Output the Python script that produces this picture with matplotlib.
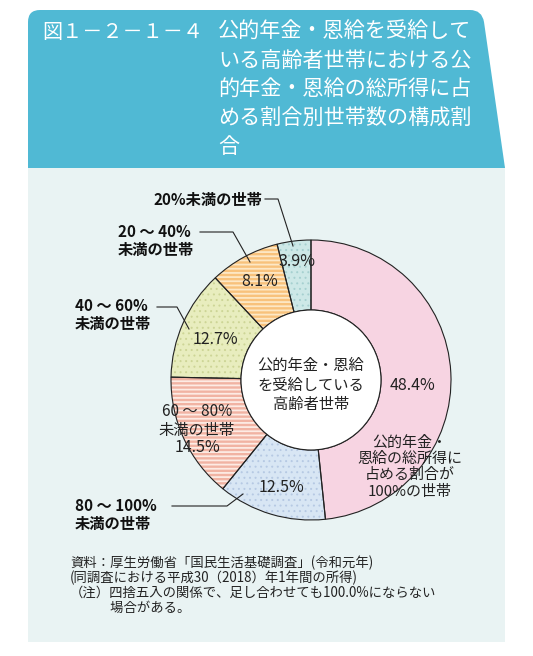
import matplotlib.pyplot as plt
from matplotlib.patches import Rectangle, Circle, PathPatch
from matplotlib.path import Path

plt.rcParams['font.family'] = ['Noto Sans CJK JP', 'DejaVu Sans']
plt.rcParams['hatch.linewidth'] = 1.3

# Data (clockwise from 12 o'clock)
categories = ['100%の世帯', '80～100%未満', '60～80%未満', '40～60%未満', '20～40%未満', '20%未満']
shares = [48.4, 12.5, 14.5, 12.7, 8.1, 3.9]
face_colors = ['#f7d4e2', '#d8e6f4', '#f1b3a3', '#e8edbe', '#f8c27c', '#cde8e7']
hatches = ['', '...', '----', '...', '----', '...']
hatch_colors = ['#f7d4e2', '#b6c9e3', '#fdebe4', '#cdd596', '#fde8c6', '#a6d0d0']
hatch_widths = [1.0, 0.7, 1.3, 0.7, 1.3, 0.7]

W, H = 533, 656
cx, cy, R = 311, 380, 140

fig = plt.figure(figsize=(W / 100, H / 100), dpi=100)

# Background, header
bg = fig.add_axes([0, 0, 1, 1])
bg.set_xlim(0, W)
bg.set_ylim(H, 0)
bg.axis('off')
bg.add_patch(Rectangle((28, 166), 477, 476, facecolor='#e9f3f3', edgecolor='none'))
hdr = Path([(28, 168), (28, 22), (28, 10), (40, 10), (470, 10), (482, 10), (484, 22),
            (505, 168), (28, 168)],
           [Path.MOVETO, Path.LINETO, Path.CURVE3, Path.CURVE3, Path.LINETO,
            Path.CURVE3, Path.CURVE3, Path.LINETO, Path.CLOSEPOLY])
bg.add_patch(PathPatch(hdr, facecolor='#50b9d4', edgecolor='none'))

bg.text(42, 32, '図１－２－１－４', color='white', fontsize=14.5, va='center', ha='left')
title_lines = ['公的年金・恩給を受給して', 'いる高齢者世帯における公',
               '的年金・恩給の総所得に占', 'める割合別世帯数の構成割', '合']
for i, line in enumerate(title_lines):
    bg.text(218, 32 + i * 28.8, line, color='white', fontsize=15.2, va='center', ha='left')

# Donut
m = 6 / R
pa = fig.add_axes([(cx - R - 6) / W, 1 - (cy + R + 6) / H, (2 * R + 12) / W, (2 * R + 12) / H])
common = dict(startangle=90, counterclock=False, radius=1)
pa.pie(shares, colors=face_colors, wedgeprops=dict(width=0.5, linewidth=0, edgecolor='none'), **common)
hw, _ = pa.pie(shares, colors=['none'] * len(shares), wedgeprops=dict(width=0.5, linewidth=0), **common)
for w, h, hc, hl in zip(hw, hatches, hatch_colors, hatch_widths):
    if h:
        w.set_hatch(h)
        w.set_edgecolor(hc)
        w.set_linewidth(0)
        if hasattr(w, 'set_hatch_linewidth'):
            w.set_hatch_linewidth(hl)
pa.pie(shares, colors=['none'] * len(shares),
       wedgeprops=dict(width=0.5, linewidth=0.8, edgecolor='#222222'), **common)
pa.add_patch(Circle((0, 0), 0.5, facecolor='white', edgecolor='#222222', linewidth=0.8))
pa.set_xlim(-1 - m, 1 + m)
pa.set_ylim(-1 - m, 1 + m)
pa.axis('off')

# Overlay for labels
top = fig.add_axes([0, 0, 1, 1])
top.set_xlim(0, W)
top.set_ylim(H, 0)
top.axis('off')
top.patch.set_alpha(0)

pct = ['{:.1f}%'.format(v) for v in shares]
pct_pos = [(413, 385), (281, 487), (197, 448), (215, 340), (260, 282), (297, 262)]
for (x, y), s in zip(pct_pos, pct):
    top.text(x, y, s, fontsize=11.5, ha='center', va='center', color='#222222')

top.text(311, 385, '公的年金・恩給\nを受給している\n高齢者世帯', fontsize=11, ha='center',
         va='center', linespacing=1.2, color='#222222')
top.text(197, 421, '60 ～ 80%\n未満の世帯', fontsize=11, ha='center', va='center',
         linespacing=1.1, color='#222222')
top.text(410, 467, '公的年金・\n恩給の総所得に\n占める割合が\n100%の世帯', fontsize=10.8,
         ha='center', va='center', linespacing=1.2, color='#222222')

bold = dict(fontsize=11, fontweight='bold', color='#111111', va='center')
top.text(262, 200, '20%未満の世帯', ha='right', **bold)
top.text(118, 241, '20 ～ 40%\n未満の世帯', ha='left', linespacing=1.15, **bold)
top.text(75, 315, '40 ～ 60%\n未満の世帯', ha='left', linespacing=1.15, **bold)
top.text(75, 515, '80 ～ 100%\n未満の世帯', ha='left', linespacing=1.15, **bold)

leaders = [
    [(265, 199), (278, 199), (293, 246)],
    [(200, 232), (233, 232), (250, 262)],
    [(157, 307), (177, 307), (189, 329)],
    [(172, 506), (227, 506), (243, 494)],
]
for pts in leaders:
    xs, ys = zip(*pts)
    top.plot(xs, ys, color='#222222', linewidth=0.8)

notes = ['資料：厚生労働省「国民生活基礎調査」(令和元年)',
         '(同調査における平成30（2018）年1年間の所得)',
         '（注）四捨五入の関係で、足し合わせても100.0%にならない',
         '　　　場合がある。']
for i, line in enumerate(notes):
    top.text(70, 563 + i * 15, line, fontsize=9.6, ha='left', va='center', color='#222222')

fig.savefig('out.png', dpi=100)
